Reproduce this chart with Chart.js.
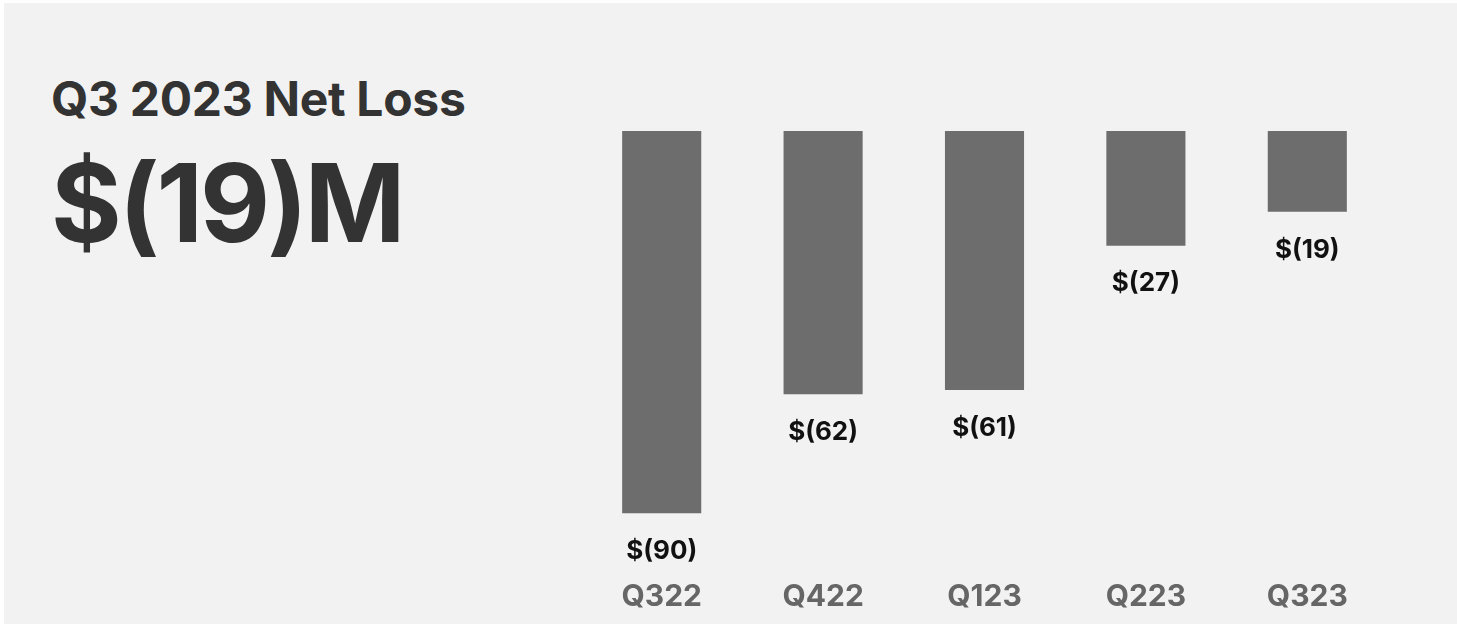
<!DOCTYPE html>
<html>
<head>
<meta charset="utf-8">
<script src="https://cdn.jsdelivr.net/npm/chart.js@4.4.0/dist/chart.umd.min.js"></script>
<style>
  html, body { margin: 0; padding: 0; background: #fff; }
  #panel { position: absolute; left: 4px; top: 3px; width: 1453px; height: 621px; background: #f2f2f2; overflow: hidden; }
  .t { position: absolute; left: 47px; color: #333; font-family: Inter, "Open Sans", sans-serif; white-space: nowrap; }
  #title { top: 67px; font-size: 48px; line-height: 58px; font-weight: 700; letter-spacing: -0.3px; }
  #big { top: 135px; font-size: 108px; line-height: 130px; font-weight: 700; letter-spacing: -3px; }
  #wrap { position: absolute; left: -4px; top: -3px; width: 1457px; height: 624px; }
</style>
</head>
<body>
<div id="panel">
  <div class="t" id="title">Q3 2023 Net Loss</div>
  <div class="t" id="big">$(19)M</div>
  <div id="wrap"><canvas id="c" width="1457" height="624"></canvas></div>
</div>
<script>
const quarters = ['Q322', 'Q422', 'Q123', 'Q223', 'Q323'];
const netLoss = [-90, -62, -61, -27, -19];
const lossLabels = ['$(90)', '$(62)', '$(61)', '$(27)', '$(19)'];

const FONT = 'Inter, "Open Sans", sans-serif';

// draws the value under each bar end
const barLabels = {
  id: 'barLabels',
  afterDatasetsDraw(chart) {
    const ctx = chart.ctx;
    const meta = chart.getDatasetMeta(0);
    ctx.save();
    ctx.font = '700 26px ' + FONT;
    ctx.fillStyle = '#111';
    ctx.textAlign = 'center';
    ctx.textBaseline = 'top';
    meta.data.forEach((bar, i) => {
      ctx.fillText(lossLabels[i], bar.x, bar.y + 25);
    });
    ctx.restore();
  }
};

new Chart(document.getElementById('c'), {
  type: 'bar',
  data: {
    labels: quarters,
    datasets: [{
      data: netLoss,
      backgroundColor: '#6d6d6d',
      borderWidth: 0,
      categoryPercentage: 1,
      barPercentage: 0.49
    }]
  },
  options: {
    responsive: false,
    animation: false,
    layout: { padding: { left: 581, right: 69, top: 131, bottom: -13 } },
    plugins: { legend: { display: false }, tooltip: { enabled: false } },
    scales: {
      x: {
        grid: { display: false, drawTicks: false },
        border: { display: false },
        ticks: { color: '#666', font: { family: FONT, size: 30, weight: '700' }, padding: 22 }
      },
      y: { display: false, min: -100.3, max: 0 }
    }
  },
  plugins: [barLabels]
});
</script>
</body>
</html>
